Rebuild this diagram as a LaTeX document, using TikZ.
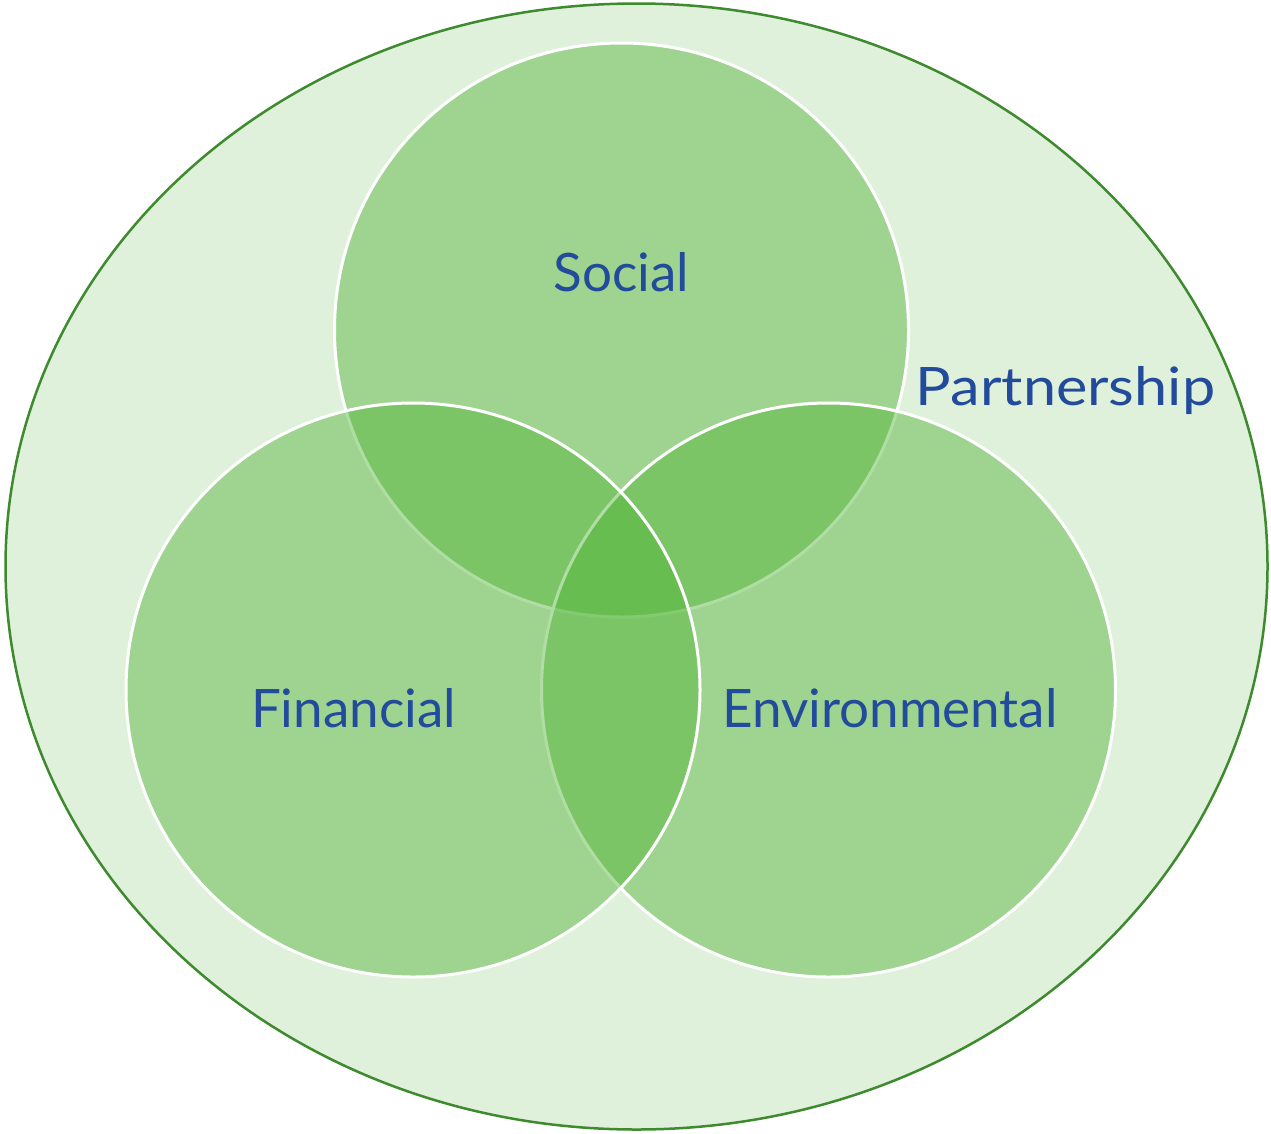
\documentclass[tikz,border=0pt]{standalone}
\usepackage{fontspec}
\setmainfont{Lato}
\usetikzlibrary{shapes.geometric}
\definecolor{outerfill}{RGB}{223,240,219}
\definecolor{outerline}{RGB}{62,138,46}
\definecolor{setgreen}{RGB}{82,181,56}
\definecolor{labelblue}{RGB}{35,75,155}
\tikzset{
  setcircle/.style={circle, inner sep=0pt, minimum size=574pt, fill=setgreen, fill opacity=0.46, draw=white, draw opacity=1, line width=3pt},
  setlabel/.style={anchor=base, text=labelblue, font=\fontsize{53}{60}\selectfont, inner sep=0pt}
}
\begin{document}
\begin{tikzpicture}[x=1pt,y=-1pt]
\useasboundingbox (0,0) rectangle (1271,1133);
\node[ellipse, inner sep=0pt, minimum width=1262pt, minimum height=1126pt, fill=outerfill, draw=outerline, line width=2.5pt] (outer) at (636.5,566.5) {};
\node[setcircle] (social) at (621.5,330) {};
\node[setcircle] (env) at (828.5,690) {};
\node[setcircle] (fin) at (413,690) {};
\node[setlabel] (tsocial) at (621.5,291) {Social};
\node[setlabel] (tpart) at (1065.5,405) {\scalebox{1.12}[1]{Partnership}};
\node[setlabel] (tfin) at (353.5,727) {Financial};
\node[setlabel] (tenv) at (890,727) {Environmental};
\end{tikzpicture}
\end{document}
